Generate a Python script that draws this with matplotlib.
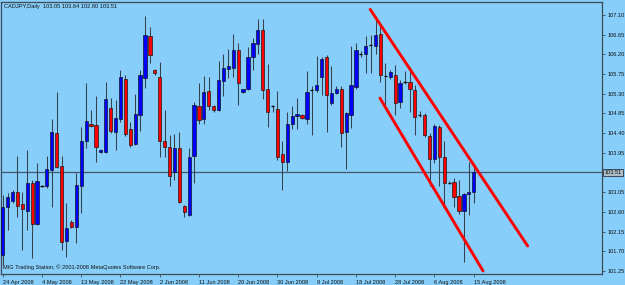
"""
CADJPY daily candles (24 Apr - 15 Aug 2008) with a hand-drawn down channel,
drawn in the MetaTrader style. Saves out.png (625x285).
"""

import matplotlib
matplotlib.use("Agg")
import matplotlib.pyplot as plt

# --- data --------------------------------------------------------------------
opens = [101.62, 102.72, 102.86, 103.06, 102.78, 102.62, 103.25, 102.32, 103.19, 103.20,
         103.56, 104.41, 103.65, 101.94, 102.38, 102.26, 103.20, 104.21, 104.62, 104.59,
         103.96, 103.96, 104.97, 104.43, 104.72, 105.64, 104.50, 104.15, 104.81, 105.65,
         106.63, 105.84, 105.68, 104.22, 104.09, 103.51, 104.07, 102.74, 102.53, 103.88,
         105.03, 104.72, 105.36, 105.02, 104.93, 105.60, 105.87, 105.90, 106.30, 105.34,
         105.40, 106.13, 106.44, 106.76, 105.42, 105.03, 104.95, 103.92, 103.73, 104.60,
         104.80, 104.82, 104.72, 105.39, 105.39, 105.69, 106.13, 105.10, 105.31, 105.41,
         104.43, 104.82, 105.46, 106.22, 106.20, 106.41, 106.40, 106.67, 105.71, 105.69,
         105.74, 105.12, 105.56, 105.56, 105.39, 104.82, 104.82, 104.34, 103.80, 104.53,
         103.85, 103.27, 103.28, 102.96, 102.61, 103.00, 103.05]
highs = [102.99, 103.03, 103.10, 103.88, 103.06, 104.02, 103.33, 103.71, 103.22, 103.88,
         104.72, 105.33, 103.88, 102.80, 102.42, 103.50, 104.53, 105.54, 104.94, 105.25,
         104.03, 105.58, 105.20, 105.16, 105.84, 105.73, 104.66, 105.29, 105.84, 107.08,
         106.83, 105.86, 106.03, 104.94, 104.36, 104.38, 104.43, 102.76, 104.05, 105.12,
         105.55, 105.71, 105.69, 105.04, 106.05, 106.22, 106.32, 106.67, 106.45, 105.42,
         106.38, 106.57, 107.02, 107.00, 105.98, 105.04, 105.36, 104.21, 104.89, 105.01,
         105.20, 104.83, 105.83, 105.48, 106.16, 106.15, 106.19, 105.93, 105.48, 105.48,
         104.89, 106.39, 106.45, 106.28, 106.61, 106.64, 107.06, 106.87, 106.00, 105.84,
         105.96, 105.62, 105.81, 105.92, 105.50, 104.91, 104.87, 104.40, 104.62, 104.59,
         104.21, 103.31, 103.37, 103.33, 103.03, 103.73, 103.64]
lows = [101.39, 102.19, 102.81, 102.48, 101.73, 102.19, 101.54, 102.30, 103.17, 103.14,
        102.72, 103.60, 101.73, 101.58, 102.23, 101.88, 102.57, 104.05, 104.55, 103.75,
        103.94, 103.94, 104.41, 104.02, 104.66, 104.34, 104.09, 104.13, 104.46, 105.44,
        106.00, 105.74, 103.86, 103.86, 103.19, 103.33, 102.81, 102.48, 102.51, 103.25,
        104.62, 104.62, 104.93, 104.89, 104.91, 105.25, 105.65, 105.69, 105.04, 105.31,
        105.39, 105.84, 106.22, 105.17, 104.55, 104.89, 103.79, 103.09, 103.54, 104.50,
        104.50, 104.72, 104.61, 104.36, 105.35, 105.27, 104.43, 105.04, 105.29, 104.09,
        103.57, 104.51, 105.40, 106.15, 105.77, 105.77, 106.22, 105.58, 105.04, 105.63,
        104.82, 104.97, 105.52, 104.89, 104.36, 104.78, 104.32, 103.19, 103.71, 103.19,
        102.68, 103.24, 102.72, 102.55, 101.46, 102.53, 102.80]
closes = [102.72, 102.95, 103.05, 102.74, 102.67, 103.25, 102.32, 103.31, 103.19, 103.58,
          104.43, 103.62, 101.91, 102.23, 102.26, 103.22, 104.21, 104.68, 104.56, 104.08,
          104.02, 105.17, 104.45, 104.74, 105.68, 104.38, 104.14, 104.83, 105.73, 106.64,
          106.19, 105.77, 104.21, 104.09, 103.43, 104.07, 102.83, 102.59, 103.86, 105.04,
          104.69, 105.34, 105.02, 104.93, 105.61, 105.88, 105.93, 106.30, 105.54, 105.40,
          106.13, 106.47, 106.76, 105.39, 104.89, 105.03, 103.86, 103.75, 104.62, 104.79,
          104.83, 104.74, 105.33, 105.39, 105.49, 106.09, 105.27, 105.31, 105.41, 104.41,
          104.85, 105.50, 106.30, 106.22, 106.39, 106.41, 106.64, 105.74, 105.71, 105.79,
          105.10, 105.55, 105.56, 105.41, 104.78, 104.82, 104.36, 103.80, 104.56, 103.85,
          103.25, 103.27, 102.93, 102.61, 103.00, 103.05, 103.51]

date_labels = ["24 Apr 2008", "4 May 2008", "13 May 2008", "22 May 2008", "2 Jun 2008",
               "11 Jun 2008", "20 Jun 2008", "30 Jun 2008", "9 Jul 2008", "18 Jul 2008",
               "28 Jul 2008", "6 Aug 2008", "15 Aug 2008"]
bars_per_label = 8

price_ticks = [107.10, 106.65, 106.20, 105.75, 105.30, 104.85, 104.40, 103.95,
               103.05, 102.60, 102.15, 101.70, 101.25]
last_price = 103.51

# channel drawn on the chart: (bar index, price) end points
upper_x = [74.9, 107.0]
upper_y = [107.23, 101.82]
lower_x = [76.9, 97.9]
lower_y = [105.20, 101.25]

# --- style ---------------------------------------------------------------------
BG = "#87cefa"
FRAME = "#3f4a55"
WICK = "#34424f"
UP = "#0000ff"
DOWN = "#ff0000"
TXT = "#111111"
FONT = "Liberation Sans"
FS = 4.1

YMIN, YMAX = 101.18, 107.41

fig = plt.figure(figsize=(6.25, 2.85), dpi=100, facecolor=BG)
ax = fig.add_axes([1 / 625, 11 / 285, 601 / 625, 272.5 / 285], facecolor=BG)

n = len(opens)
xs = list(range(n))

# wicks
ax.vlines(xs, lows, highs, color=WICK, lw=0.75, zorder=2)

# bodies
for i in xs:
    o, c = opens[i], closes[i]
    if abs(c - o) < 0.005:
        ax.hlines(o, i - 0.33, i + 0.33, color="black", lw=0.9, zorder=3)
        continue
    col = UP if c > o else DOWN
    ax.bar(i, abs(c - o), bottom=min(o, c), width=0.66, color=col,
           edgecolor="#101010", lw=0.45, zorder=3)

# current price line
ax.axhline(last_price, color="#45596a", lw=0.9, zorder=1)

# channel
ax.plot(upper_x, upper_y, color="#ff0000", lw=2.1, solid_capstyle="round", zorder=4)
ax.plot(lower_x, lower_y, color="#ff0000", lw=2.1, solid_capstyle="round", zorder=4)

ax.set_xlim(-0.35, 122.15)
ax.set_ylim(YMIN, YMAX)

for s in ax.spines.values():
    s.set_color(FRAME)
    s.set_linewidth(0.9)

# price scale on the right
ax.yaxis.tick_right()
ax.set_yticks(price_ticks)
ax.set_yticklabels([f"{p:.2f}" for p in price_ticks], fontsize=FS, family=FONT, color=TXT)
ax.tick_params(axis="y", length=2.5, width=0.6, color=FRAME, pad=1.5)
ax.text(1.004, (last_price - YMIN) / (YMAX - YMIN), f"{last_price:.2f}",
        transform=ax.transAxes, fontsize=FS, family=FONT, color=TXT, va="center", ha="left",
        bbox=dict(boxstyle="square,pad=0.18", fc="#aebcc6", ec="#2a3540", lw=0.6))

# date scale
ax.set_xticks(list(range(0, n, bars_per_label)))
ax.set_xticklabels(date_labels, fontsize=FS, family=FONT, color=TXT, ha="left")
ax.tick_params(axis="x", length=2.5, width=0.6, color=FRAME, pad=1.5)

fig.text(4 / 625, 1 - 6.5 / 285, "CADJPY,Daily  103.05 103.64 102.80 103.51",
         fontsize=FS, family=FONT, color=TXT, va="center", ha="left")
ax.text(0.003, 0.015, "MIG Trading Station, \u00a9 2001-2008 MetaQuotes Software Corp.",
        transform=ax.transAxes, fontsize=FS, family=FONT, color=TXT, va="bottom", ha="left")

fig.savefig("out.png", dpi=100, facecolor=BG)
